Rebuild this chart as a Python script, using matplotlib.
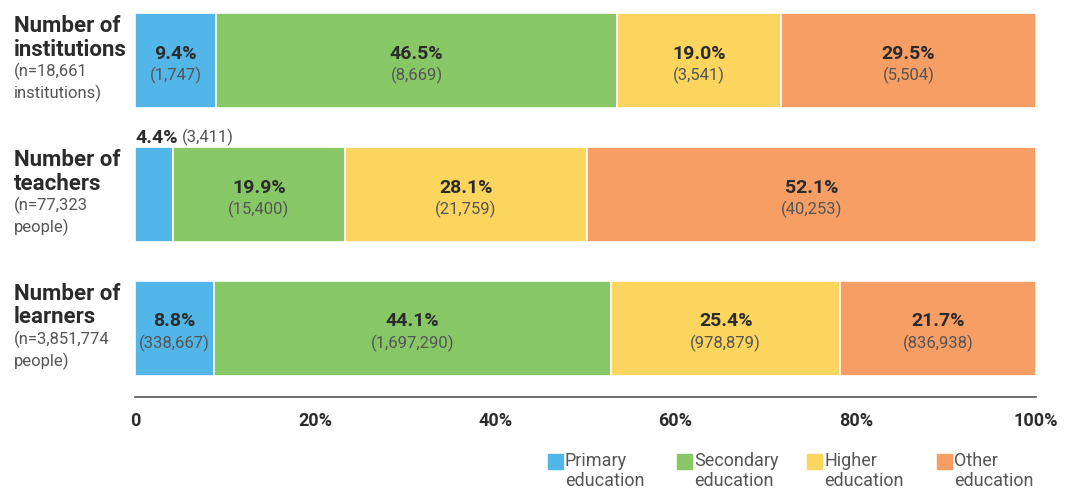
import matplotlib
matplotlib.use("Agg")
import matplotlib.pyplot as plt
import numpy as np

plt.rcParams['font.family'] = ['Roboto', 'DejaVu Sans']

categories = ["Number of\ninstitutions", "Number of\nteachers", "Number of\nlearners"]
subtitles = ["(n=18,661\ninstitutions)", "(n=77,323\npeople)", "(n=3,851,774\npeople)"]
series = ["Primary\neducation", "Secondary\neducation", "Higher\neducation", "Other\neducation"]
pct_labels = [
    ["9.4%", "46.5%", "19.0%", "29.5%"],
    ["4.4%", "19.9%", "28.1%", "52.1%"],
    ["8.8%", "44.1%", "25.4%", "21.7%"],
]
counts = [
    [1747, 8669, 3541, 5504],
    [3411, 15400, 21759, 40253],
    [338667, 1697290, 978879, 836938],
]
colors = ["#52B6E8", "#88C766", "#FCD55E", "#F79E64"]
xticks = [0, 20, 40, 60, 80, 100]
xticklabels = ["0", "20%", "40%", "60%", "80%", "100%"]

W, H = 1065, 490
fig = plt.figure(figsize=(W / 100, H / 100), dpi=100)
ax = fig.add_axes([135 / W, (H - 397) / H, 901 / W, 384 / H])
ax.set_xlim(0, 100)
ax.set_ylim(384, 0)

bar_centers = [47.5, 181.5, 315]
bar_h = 95
dark = "#2b2b2b"
gray = "#555555"
xl = -121 / 901 * 100

for i, row in enumerate(counts):
    row = np.array(row, dtype=float)
    widths = row / row.sum() * 100
    lefts = np.concatenate([[0], np.cumsum(widths)[:-1]])
    yc = bar_centers[i]
    ax.barh(yc, widths, left=lefts, height=bar_h, color=colors,
            edgecolor="white", linewidth=1.2)
    for j in range(4):
        cx = lefts[j] + widths[j] / 2
        if widths[j] < 6:
            ax.text(lefts[j], yc - bar_h / 2 - 0.5, pct_labels[i][j], ha="left", va="bottom",
                    fontsize=14, fontweight="bold", color=dark)
            ax.text(5.2, yc - bar_h / 2 - 1, f"({counts[i][j]:,})", ha="left", va="bottom",
                    fontsize=12, color=gray)
        else:
            ax.text(cx, yc - 7, pct_labels[i][j], ha="center", va="center",
                    fontsize=14, fontweight="bold", color=dark)
            ax.text(cx, yc + 15, f"({counts[i][j]:,})", ha="center", va="center",
                    fontsize=12, color=gray)
    top = yc - bar_h / 2
    ax.text(xl, top + 2, categories[i], ha="left", va="top",
            fontsize=16, fontweight="bold", color=dark, linespacing=1.1, clip_on=False)
    ax.text(xl, top + 50, subtitles[i], ha="left", va="top",
            fontsize=12, color=gray, linespacing=1.35, clip_on=False)

for s in ["top", "right", "left"]:
    ax.spines[s].set_visible(False)
ax.spines["bottom"].set_color("#555555")
ax.spines["bottom"].set_linewidth(1.2)
ax.set_yticks([])
ax.set_xticks(xticks)
ax.set_xticklabels(xticklabels, fontsize=13, color=dark, fontweight="bold")
ax.tick_params(axis="x", length=0, pad=11)

leg_x = [548, 677, 807, 937]
for k in range(4):
    fig.patches.append(plt.Rectangle((leg_x[k] / W, 1 - 469 / H), 15 / W, 15 / H,
                                     transform=fig.transFigure, color=colors[k]))
    fig.text((leg_x[k] + 17) / W, 1 - 452 / H, series[k], ha="left", va="top",
             fontsize=13, color=gray, linespacing=1.15)

fig.savefig("out.png", dpi=100)
